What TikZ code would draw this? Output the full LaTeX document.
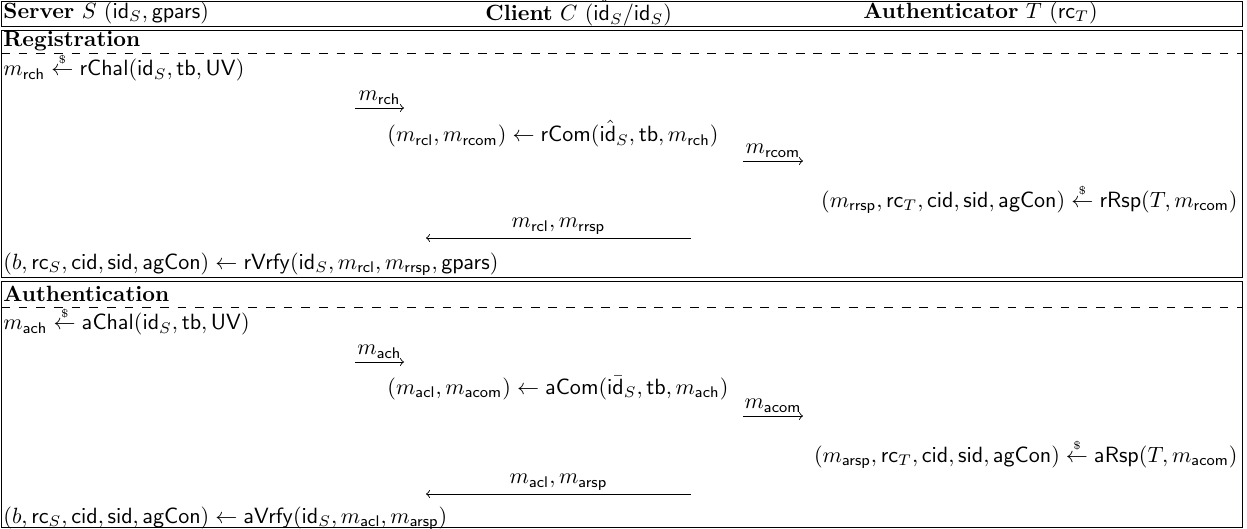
\documentclass[tikz,border=0pt]{standalone}
\usepackage{amsmath}
\usepackage{tikz}

\newcommand{\fn}[1]{\mathsf{#1}}
\newcommand{\sampleto}{\mathrel{\overset{\scriptscriptstyle\$}{\leftarrow}}}
\newcommand{\idhat}{\fn{i}\hat{\fn{d}}}
\newcommand{\idbar}{\fn{i}\bar{\fn{d}}}

\begin{document}
\begin{tikzpicture}[x=0.453pt, y=-0.453pt,
    frame/.style={draw, thin},
    txt/.style={anchor=west, inner sep=0pt},
    txtr/.style={anchor=east, inner sep=0pt},
    msg/.style={->, thin},
    lbl/.style={above, inner sep=1.5pt}]

    \useasboundingbox (0,0) rectangle (1247,529);

    % header with the three parties
    \draw[frame] (1,1) rectangle (1242,26);
    \node[txt] (srv) at (3,13) {\textbf{Server} $S$ $(\fn{id}_S, \fn{gpars})$};
    \node[txt] (cli) at (485,13) {\textbf{Client} $C$ $(\idhat_S/\idbar_S)$};
    \node[txt] (aut) at (863,13) {\textbf{Authenticator} $T$ $(\fn{rc}_T)$};

    % registration
    \draw[frame] (1,30) rectangle (1242,277);
    \node[txt] (reg) at (3,41) {\textbf{Registration}};
    \draw[dash pattern=on 4pt off 4pt] (1,53) -- (1242,53);
    \node[txt] (rchal) at (3,67) {$m_{\fn{rch}} \sampleto \fn{rChal}(\fn{id}_S, \fn{tb}, \fn{UV})$};
    \coordinate (rch1) at (355,108);
    \coordinate (rch2) at (404,108);
    \draw[msg] (rch1) -- node[lbl] {$m_{\fn{rch}}$} (rch2);
    \node[txt] (rcom) at (387,134) {$(m_{\fn{rcl}}, m_{\fn{rcom}}) \leftarrow \fn{rCom}(\idhat_S, \fn{tb}, m_{\fn{rch}})$};
    \coordinate (rcom1) at (743,161);
    \coordinate (rcom2) at (803,161);
    \draw[msg] (rcom1) -- node[lbl] {$m_{\fn{rcom}}$} (rcom2);
    \node[txtr] (rrsp) at (1238,199) {$(m_{\fn{rrsp}}, \fn{rc}_T, \fn{cid}, \fn{sid}, \fn{agCon}) \sampleto \fn{rRsp}(T, m_{\fn{rcom}})$};
    \coordinate (rback1) at (691,238);
    \coordinate (rback2) at (426,238);
    \draw[msg] (rback1) -- node[lbl] {$m_{\fn{rcl}}, m_{\fn{rrsp}}$} (rback2);
    \node[txt] (rvrfy) at (3,264) {$(b, \fn{rc}_S, \fn{cid}, \fn{sid}, \fn{agCon}) \leftarrow \fn{rVrfy}(\fn{id}_S, m_{\fn{rcl}}, m_{\fn{rrsp}}, \fn{gpars})$};

    % authentication
    \draw[frame] (1,281) rectangle (1242,527);
    \node[txt] (auth) at (3,294) {\textbf{Authentication}};
    \draw[dash pattern=on 4pt off 4pt] (1,307) -- (1242,307);
    \node[txt] (achal) at (3,321) {$m_{\fn{ach}} \sampleto \fn{aChal}(\fn{id}_S, \fn{tb}, \fn{UV})$};
    \coordinate (ach1) at (355,362);
    \coordinate (ach2) at (404,362);
    \draw[msg] (ach1) -- node[lbl] {$m_{\fn{ach}}$} (ach2);
    \node[txt] (acom) at (387,388) {$(m_{\fn{acl}}, m_{\fn{acom}}) \leftarrow \fn{aCom}(\idbar_S, \fn{tb}, m_{\fn{ach}})$};
    \coordinate (acom1) at (743,416);
    \coordinate (acom2) at (803,416);
    \draw[msg] (acom1) -- node[lbl] {$m_{\fn{acom}}$} (acom2);
    \node[txtr] (arsp) at (1238,454) {$(m_{\fn{arsp}}, \fn{rc}_T, \fn{cid}, \fn{sid}, \fn{agCon}) \sampleto \fn{aRsp}(T, m_{\fn{acom}})$};
    \coordinate (aback1) at (691,494);
    \coordinate (aback2) at (426,494);
    \draw[msg] (aback1) -- node[lbl] {$m_{\fn{acl}}, m_{\fn{arsp}}$} (aback2);
    \node[txt] (avrfy) at (3,518) {$(b, \fn{rc}_S, \fn{cid}, \fn{sid}, \fn{agCon}) \leftarrow \fn{aVrfy}(\fn{id}_S, m_{\fn{acl}}, m_{\fn{arsp}})$};

\end{tikzpicture}
\end{document}
